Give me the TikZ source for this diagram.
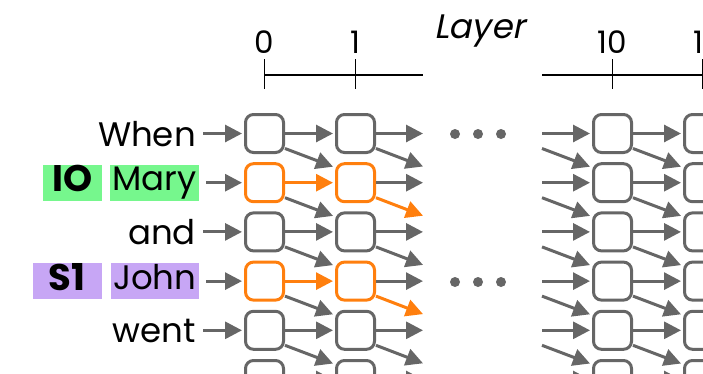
\documentclass[tikz,border=0pt]{standalone}
\usepackage{fontspec}
\setmainfont{Poppins}
\newfontfamily\slantfont{Poppins}[FakeSlant=0.2]
\usetikzlibrary{arrows.meta,calc}
\definecolor{edgegray}{RGB}{102,102,102}
\definecolor{pathorange}{RGB}{255,127,14}
\definecolor{iogreen}{RGB}{118,247,141}
\definecolor{subjpurple}{RGB}{199,166,245}
\begin{document}
\begin{tikzpicture}[x=1pt,y=-1pt,
  cell/.style={draw=edgegray,line width=3pt,rounded corners=8pt,minimum size=38pt,inner sep=0pt,fill=white},
  hotcell/.style={cell,draw=pathorange},
  flow/.style={draw=edgegray,line width=3pt,-{Triangle[length=17pt,width=17pt]}},
  hotflow/.style={flow,draw=pathorange},
  axis/.style={draw=black,line width=1.6pt},
  word/.style={font=\fontsize{34}{34}\selectfont,inner sep=0pt,anchor=base east},
  tag/.style={word,inner xsep=0pt,inner ysep=0pt,text height=26pt,text depth=10pt,align=center},
  role/.style={tag,font=\fontsize{37}{37}\selectfont\bfseries,text height=27pt,text depth=9pt},
  ticklabel/.style={font=\fontsize{31}{31}\selectfont,inner sep=0pt,anchor=base},
  dot/.style={circle,fill=edgegray,minimum size=10pt,inner sep=0pt}
  ]
\useasboundingbox (0,0) rectangle (703,373);
\clip (0,0) rectangle (703,373);

% layer axis
\node[font=\fontsize{34}{34}\selectfont\slantfont,inner sep=0pt,anchor=base west] (layer) at (434,38) {Layer};
\foreach \n/\x in {0/264.5,1/355.5,10/612.5,11/703} {
  \node[ticklabel] (lab-\n) at (\x,53) {\n};
  \coordinate (tick-\n) at (\x,75);
  \draw[axis] (tick-\n) ++(0,-16) -- ++(0,30);
}
\coordinate (axisA-end) at (423,75);
\coordinate (axisB-start) at (542,75);
\draw[axis] (tick-0) -- (axisA-end);
\draw[axis] (axisB-start) -- (tick-11) -- ++(10,0);

% cells of four layers
\foreach \c/\x in {0/264.5,1/355.5,10/612.5,11/703.5} {
  \foreach \r in {1,...,6} {
    \def\sty{cell}
    \ifnum\c<2 \ifodd\r\else\ifnum\r<5 \def\sty{hotcell}\fi\fi\fi
    \node[\sty] (b-\c-\r) at (\x,{133.5+49.2*(\r-1)}) {};
  }
}

% tokens
\node[word] (w-1) at (196,146) {When};
\node[tag,fill=iogreen,minimum width=89pt,anchor=base east] (w-2) at (199,190.7) {Mary};
\node[role,fill=iogreen,minimum width=59pt,anchor=base east] (io) at (102,191.7) {IO};
\node[word] (w-3) at (196,244.4) {and};
\node[tag,fill=subjpurple,minimum width=88pt,anchor=base east] (w-4) at (199,289.1) {John};
\node[role,fill=subjpurple,minimum width=69pt,anchor=base east] (s1) at (102,290.1) {S1};
\node[word] (w-5) at (196,342.3) {went};

\foreach \r in {1,...,5} {
  \draw[flow] (w-\r.east |- b-0-\r.west) ++(7pt,0) -- ([xshift=-2pt]b-0-\r.west);
}

% layer 0 -> layer 1
\foreach \r/\nr in {1/2,2/3,3/4,4/5,5/6,6/7} {
  \def\sty{flow}
  \ifodd\r\else\ifnum\r<5 \def\sty{hotflow}\fi\fi
  \draw[\sty] (b-0-\r.east) -- ([xshift=-2pt]b-1-\r.west);
  \ifnum\r<6
    \draw[flow] ([yshift=-15pt]b-0-\r.east) -- ([xshift=-2pt,yshift=16pt]b-1-\nr.west);
  \fi
}

% layer 1 -> onward
\foreach \r in {1,...,6} {
  \def\sty{flow}
  \ifodd\r\else\ifnum\r<5 \def\sty{hotflow}\fi\fi
  \coordinate (out-h-\r) at (423,{133.5+49.2*(\r-1)});
  \coordinate (out-d-\r) at (423,{166.5+49.2*(\r-1)});
  \draw[flow] (b-1-\r.east) -- (out-h-\r);
  \draw[\sty] ([yshift=-15pt]b-1-\r.east) -- (out-d-\r);
}

% into layer 10
\foreach \r in {1,...,6} {
  \coordinate (in-h-\r) at (542,{133.5+49.2*(\r-1)});
  \coordinate (in-d-\r) at (542,{99.3+49.2*(\r-1)});
  \draw[flow] (in-h-\r) -- ([xshift=-2pt]b-10-\r.west);
  \ifnum\r>1
    \draw[flow] (in-d-\r) -- ([xshift=-2pt,yshift=16pt]b-10-\r.west);
  \fi
}

% layer 10 -> layer 11
\foreach \r/\nr in {1/2,2/3,3/4,4/5,5/6,6/7} {
  \draw[flow] (b-10-\r.east) -- ([xshift=-2pt]b-11-\r.west);
  \ifnum\r<6
    \draw[flow] ([yshift=-15pt]b-10-\r.east) -- ([xshift=-2pt,yshift=16pt]b-11-\nr.west);
  \fi
}

% elided layers
\foreach \i/\x in {1/455,2/478,3/501} {
  \node[dot] (gap-a-\i) at (\x,134) {};
  \node[dot] (gap-b-\i) at (\x,282) {};
}
\end{tikzpicture}
\end{document}
